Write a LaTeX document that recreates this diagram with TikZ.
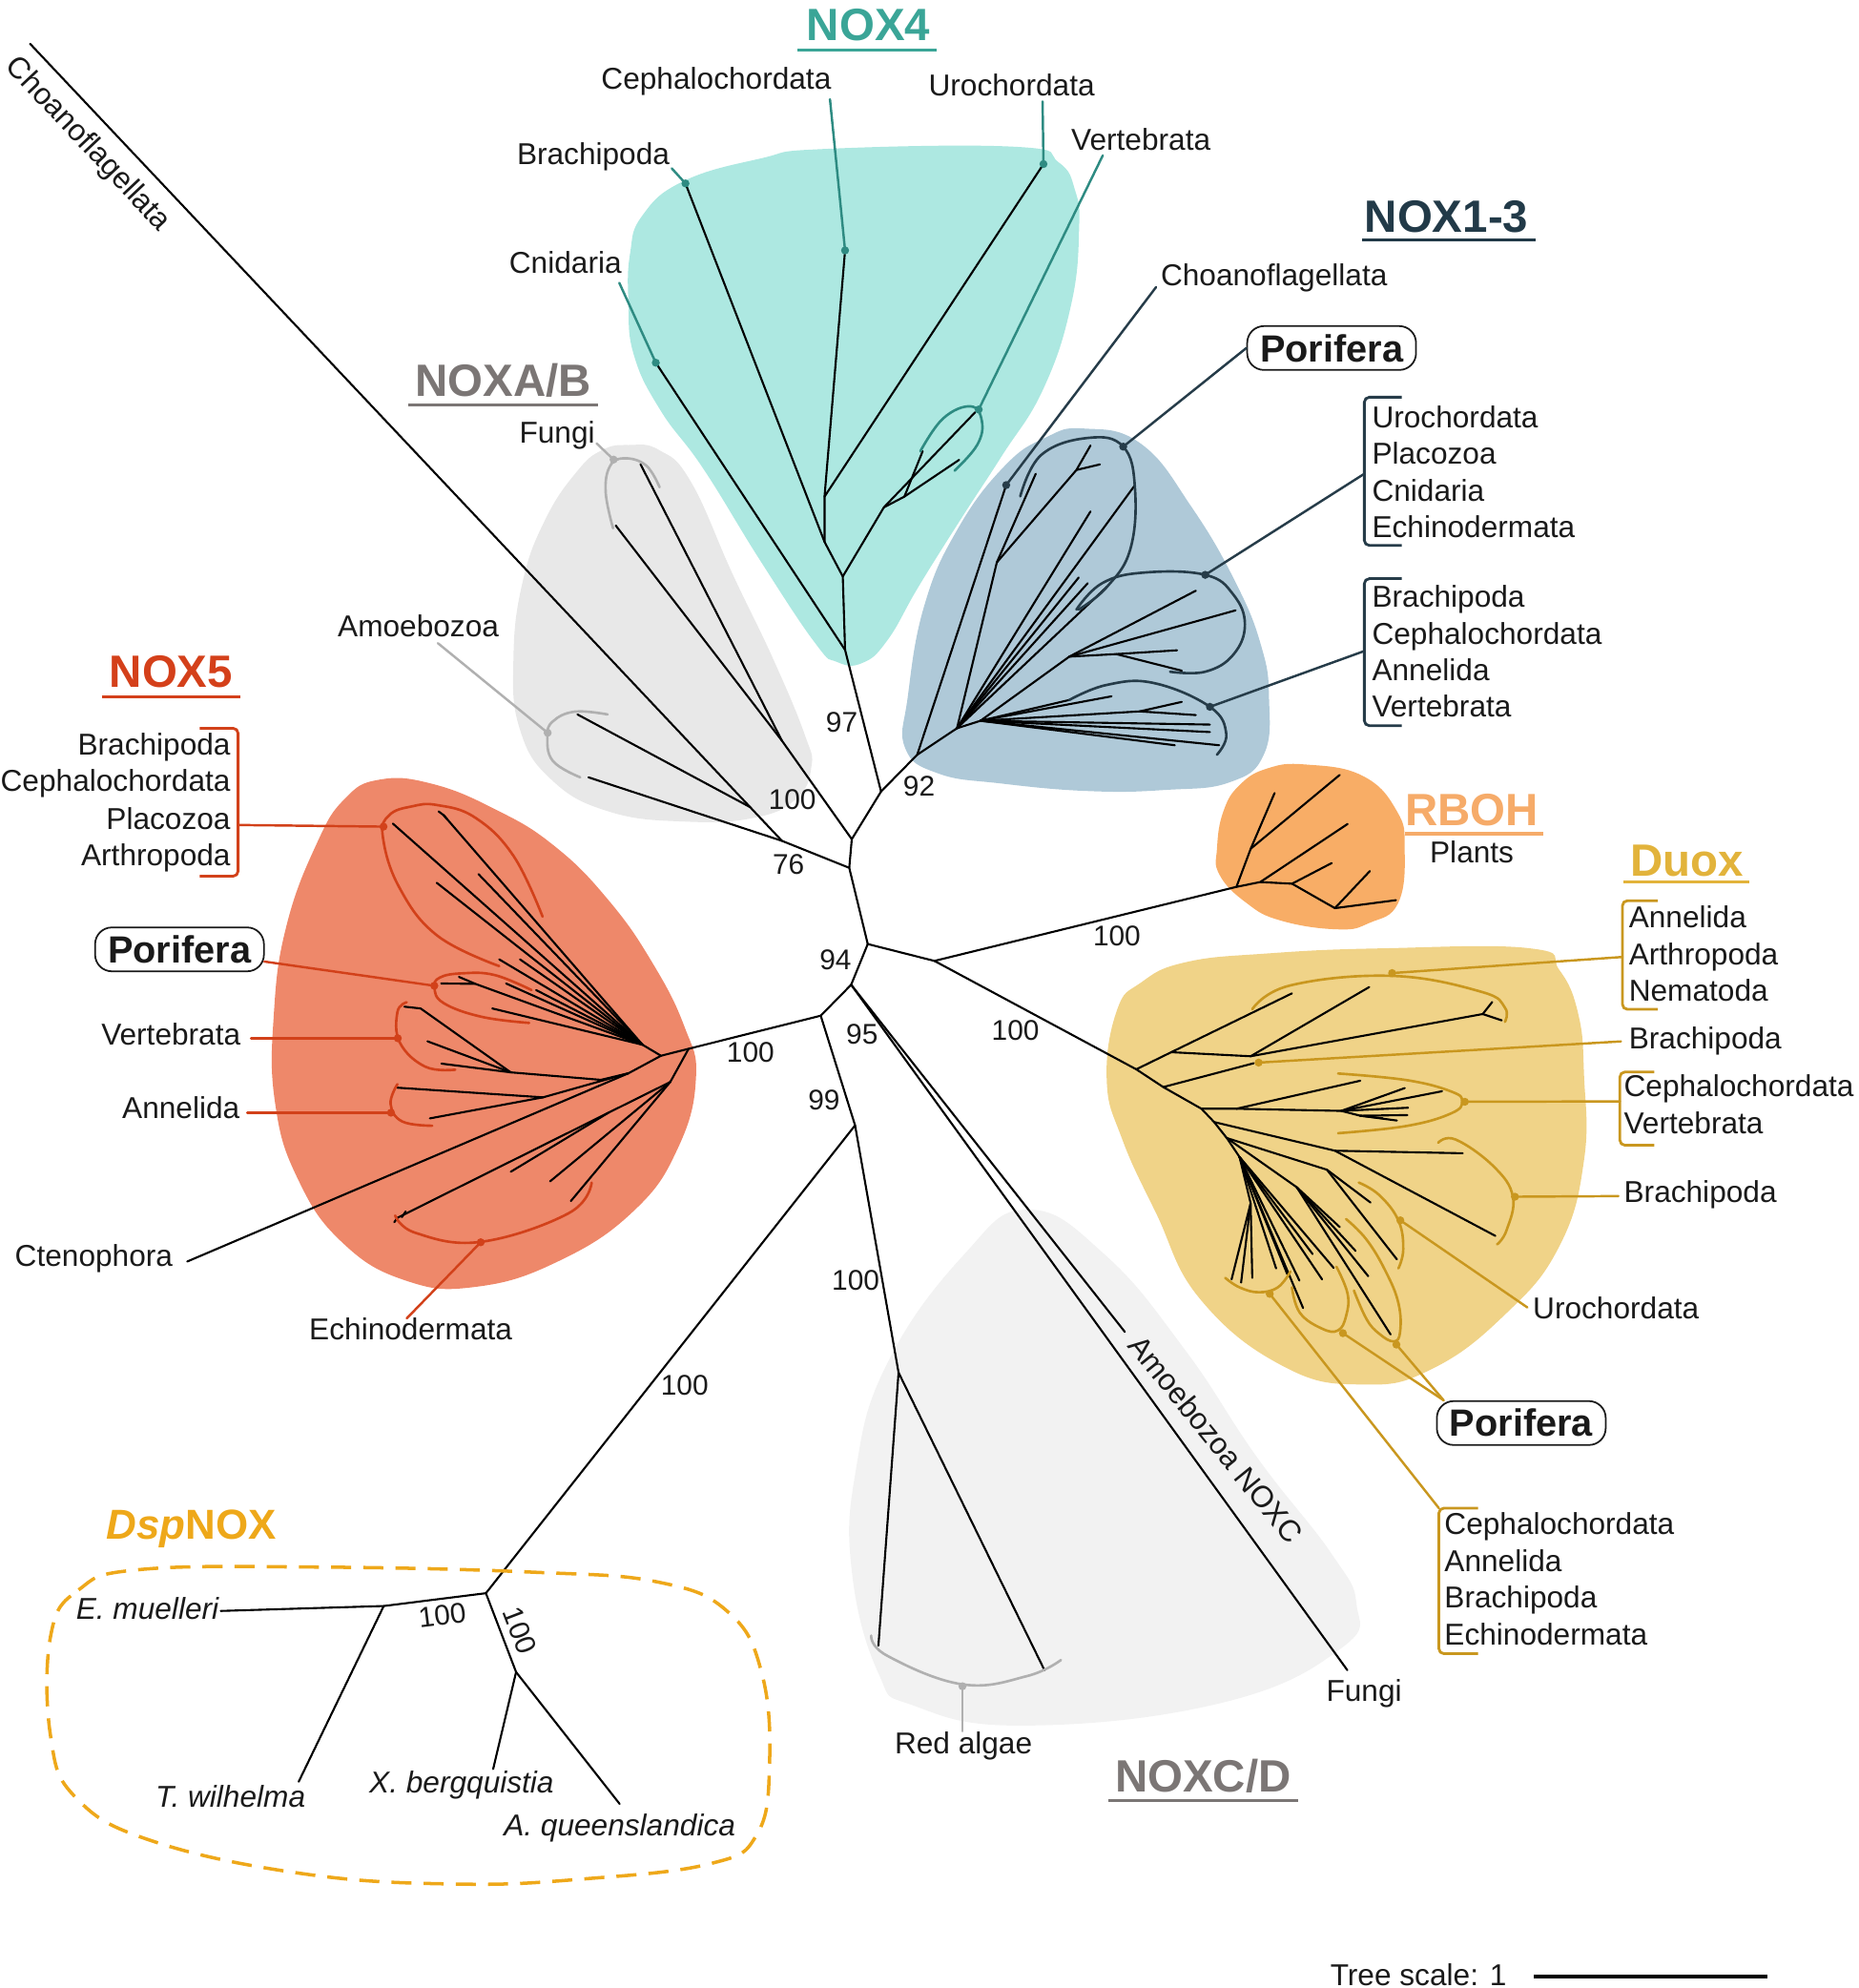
\documentclass[tikz,border=0pt]{standalone}
\usepackage{fontspec}
\setmainfont{Liberation Sans}
\newfontfamily\nokern[Kerning=Off]{Liberation Sans}
\definecolor{nfourfill}{HTML}{ADE8E1}
\definecolor{nfourtxt}{HTML}{3AA597}
\definecolor{nfourln}{HTML}{2E8B82}
\definecolor{nonefill}{HTML}{AFC9D8}
\definecolor{nonetxt}{HTML}{223A48}
\definecolor{noneln}{HTML}{263C49}
\definecolor{abfill}{HTML}{E8E8E8}
\definecolor{graytxt}{HTML}{7B7675}
\definecolor{grayln}{HTML}{B0B0B0}
\definecolor{nfivefill}{HTML}{EE886A}
\definecolor{nfivetxt}{HTML}{D4401A}
\definecolor{nfiveln}{HTML}{D2411A}
\definecolor{rbohfill}{HTML}{F8AD66}
\definecolor{rbohtxt}{HTML}{F6AB69}
\definecolor{duoxfill}{HTML}{F0D388}
\definecolor{duoxtxt}{HTML}{E2B33B}
\definecolor{duoxln}{HTML}{C9971F}
\definecolor{cdfill}{HTML}{F2F2F2}
\definecolor{dspcol}{HTML}{EEA81A}
\definecolor{ink}{HTML}{1A1A1A}
\begin{document}
\begin{tikzpicture}[x=0.013295cm,y=-0.013295cm,
  br/.style={line width=0.6pt,line cap=round,line join=round,draw=black},
  co/.style={line width=0.7pt,line cap=round},
  arcl/.style={line width=0.75pt,line cap=round},
  lab/.style={font=\fontsize{9}{10}\selectfont,inner sep=0pt,text=ink},
  bsv/.style={font=\fontsize{8.5}{10}\selectfont,inner sep=0pt,text=ink},
  hdr/.style={font=\bfseries\fontsize{13.5}{15}\selectfont,inner sep=0pt},
  pbox/.style={draw=ink,line width=0.5pt,rounded corners=5pt,font=\bfseries\fontsize{11.3}{12}\selectfont,minimum width=1.77cm,minimum height=0.46cm,inner sep=0pt,fill=white,text=ink},
  ul/.style={line width=0.9pt},
  brk/.style={line width=0.8pt,rounded corners=1.5pt},
  blob/.style={smooth cycle,tension=0.75}
]
\useasboundingbox (0,0) rectangle (1466,1568);

% ---------------- background blobs ----------------
\fill[nfourfill] plot[blob] coordinates {(538.9,143) (600,125) (650.4,117.5) (801.5,115.8) (835,128) (848,150) (851.2,180.5) (845,240) (823.1,306.5) (790,360) (758.4,408.7) (725,462) (700,505) (680,523) (660,522) (643.2,507.5) (600.1,442.8) (555,370) (520.9,323.5) (500,280) (495.7,238.4) (497,200) (506.5,170.3)};
\fill[nonefill] plot[blob] coordinates {(855,338) (900,350) (940,400) (975,460) (995,510) (1001,550) (997,595) (970,617) (920,623) (860,624) (790,618) (740,610) (714,590) (716,550) (729,478) (755,418) (792,368) (825,345)};
\fill[abfill] plot[blob] coordinates {(496,351) (520,355) (545,380) (578,453) (610,520) (635,580) (640,605) (628,630) (595,645) (540,648) (480,640) (435,615) (410,575) (405,520) (412,460) (430,410) (455,372) (475,355)};
\fill[nfivefill] plot[blob] coordinates {(299,615) (340,618) (390,638) (437,667) (480,710) (515,760) (540,810) (549,850) (535,905) (500,955) (440,995) (375,1015) (320,1010) (270,980) (235,930) (217,870) (216,800) (226,730) (250,665) (272,630)};
\fill[rbohfill] plot[blob] coordinates {(1030,603) (1075,612) (1102,640) (1108,669) (1103,712) (1080,728) (1055,733) (1010,726) (983,712) (962,690) (960,669) (965,640) (978,619) (1000,606)};
\fill[duoxfill] plot[blob] coordinates {(881,797) (900,775) (935,759) (1000,752) (1090,748) (1207,748) (1230,765) (1245,800) (1249.5,848) (1249.5,915) (1230,983) (1187,1037) (1129,1080) (1075,1092) (1013,1078) (947,1025) (912,957) (885,898) (873,852)};
\fill[cdfill] plot[blob] coordinates {(811,954) (872,990) (935,1065) (992,1150) (1050,1225) (1070,1265) (1058,1300) (964,1343) (808,1361) (720,1345) (693,1320) (672,1240) (675,1160) (700,1075) (760,990)};

% ---------------- backbone ----------------
\coordinate (A) at (684.5,744.6);
\coordinate (B) at (669.9,684.5);
\coordinate (C) at (671.9,661.9);
\coordinate (D) at (695,624.3);
\coordinate (J76) at (616.8,663.2);
\coordinate (JAm) at (591.7,636.6);
\coordinate (ChT) at (23.7,34.5);
\coordinate (AmU) at (455.5,563.5);
\coordinate (AmL) at (464.2,613.1);
\coordinate (NAB) at (616.8,584.2);
\coordinate (Fu1) at (505.2,366.1);
\coordinate (Fu2) at (485.7,414.5);
\coordinate (E) at (737.1,757.9);
\coordinate (F) at (671.4,776.7);
\coordinate (G) at (647.4,801.1);
\coordinate (H) at (674.5,887.6);

\draw[br] (ChT) -- (JAm) -- (J76) -- (B) -- (A);
\draw[br] (AmU) -- (JAm);
\draw[br] (AmL) -- (J76);
\draw[br] (Fu1) -- (NAB) -- (C);
\draw[br] (Fu2) -- (NAB);
\draw[br] (B) -- (C) -- (D);
\draw[br] (A) -- (E);
\draw[br] (A) -- (F) -- (G) -- (H);

% ---------------- NOXA/B arcs & labels ----------------
\draw[arcl,grayln] plot[smooth,tension=0.7] coordinates {(520.3,384.3) (509.5,367) (492.2,361.5) (481,368) (477.8,388.6) (483.6,416.7)};
\draw[arcl,grayln] plot[smooth,tension=0.7] coordinates {(479.3,563.5) (453.4,561.3) (436.1,569) (431.8,580.7) (436.1,600.2) (457.7,613.1)};
\coordinate (FuDot) at (484,362.5);
\coordinate (AmDot) at (432,578);
\node[lab] (lFungiA) at (439.5,343) {Fungi};
\node[lab] (lAmoeb) at (330,494) {Amoebozoa};
\draw[co,grayln] (470.6,349.7) -- (FuDot);
\draw[co,grayln] (345.4,507.3) -- (AmDot);
\fill[grayln] (FuDot) circle[radius=1.2pt];
\fill[grayln] (AmDot) circle[radius=1.2pt];
\node[hdr,text=graytxt] (hAB) at (397,300) {NOXA/B};
\draw[ul,graytxt] (321.7,319.5) -- (471.5,319.5);
\node[lab,font=\nokern\fontsize{9}{10}\selectfont,rotate=-46.8] (lChoA) at (69,114) {Choanoflagellata};

% ---------------- NOX4 ----------------
\coordinate (N4R) at (666.6,512.6);
\coordinate (N3) at (664.8,454.7);
\coordinate (N2) at (650.4,427.4);
\coordinate (N1) at (650.4,391.7);
\coordinate (Br4) at (540.7,144.7);
\coordinate (Ce4) at (666.6,197.5);
\coordinate (Ur4) at (823.1,129.4);
\coordinate (Cn4) at (517.3,286.1);
\coordinate (Vn) at (697.2,400.2);
\coordinate (Vn2) at (713.4,391.7);
\draw[br] (D) -- (N4R) -- (N3) -- (N2) -- (N1) -- (Ce4);
\draw[br] (N4R) -- (Cn4);
\draw[br] (N2) -- (Br4);
\draw[br] (N1) -- (Ur4);
\draw[br] (N3) -- (Vn) -- (769.2,325.2);
\draw[br] (Vn) -- (Vn2) -- (727.8,355.9);
\draw[br] (Vn2) -- (756.6,362.7);
\draw[arcl,nfourln] plot[smooth,tension=0.7] coordinates {(726,355.9) (744,330) (765.6,320.5) (774.5,332) (770.9,350.8) (753,371.2)};
\coordinate (V4Dot) at (772,323);
\node[lab] (lCe4) at (565,64) {Cephalochordata};
\node[lab] (lBr4) at (468,124) {Brachipoda};
\node[lab] (lUr4) at (798,67) {Urochordata};
\node[lab] (lVe4) at (900,110) {Vertebrata};
\node[lab] (lCn4) at (446,207) {Cnidaria};
\draw[co,nfourln] (654.7,78.3) -- (Ce4);
\draw[co,nfourln] (529.9,132.8) -- (Br4);
\draw[co,nfourln] (822.4,80) -- (Ur4);
\draw[co,nfourln] (869.9,122.6) -- (V4Dot);
\draw[co,nfourln] (488.5,223.1) -- (Cn4);
\foreach \p in {Ce4,Br4,Ur4,V4Dot,Cn4} \fill[nfourln] (\p) circle[radius=1.2pt];
\node[hdr,text=nfourtxt] (hN4) at (685,20) {NOX4};
\draw[ul,nfourtxt] (628.9,39.2) -- (738.6,39.2);

% ---------------- NOX1-3 ----------------
\coordinate (R13) at (723.5,595.3);
\coordinate (Ch13) at (793.7,382.6);
\coordinate (M1) at (754.9,574.4);
\coordinate (M2) at (773.4,568.5);
\coordinate (K1) at (786.3,443.6);
\coordinate (K2) at (849.1,370.7);
\coordinate (U1) at (843.5,517.9);
\coordinate (U2) at (880.5,515.9);
\coordinate (L2) at (899,561.1);
\draw[br] (D) -- (R13) -- (Ch13);
\draw[br] (R13) -- (M1) -- (M2);
\draw[br] (M1) -- (K1) -- (817,373.7);
\draw[br] (K1) -- (K2) -- (860.2,351.4);
\draw[br] (K2) -- (867.6,366.3);
\foreach \p in {(895.3,382.6),(860.2,403.4),(850.9,455.5),(858,460),(873.1,462.9)} \draw[br] (M1) -- \p;
\draw[br] (M2) -- (U1) -- (943.3,465.9);
\draw[br] (U1) -- (974.7,481.4);
\draw[br] (U1) -- (U2) -- (928.5,512.9);
\draw[br] (U2) -- (932.2,529);
\draw[br] (M2) -- (L2) -- (932.2,553.6);
\draw[br] (L2) -- (943.3,564);
\foreach \p in {(843.5,552.1),(876.8,549.2),(954.4,571.5),(954.4,577.4),(961.7,587.8),(926.7,587.8)} \draw[br] (M2) -- \p;
\draw[arcl,noneln] plot[smooth,tension=0.7] coordinates {(804.8,391.5) (821.4,358.8) (858.3,345.4) (886,352.3) (895.3,385.6) (891.6,433.2) (873.1,463) (850.9,480.8)};
\draw[arcl,noneln] plot[smooth,tension=0.7] coordinates {(849.1,480.8) (869.4,460) (902.6,451.6) (950.7,453.4) (972.8,468.9) (982,492.6) (972.8,516.4) (950.7,529.8) (923,529.8)};
\draw[arcl,noneln] plot[smooth,tension=0.7] coordinates {(843.5,552.1) (873.1,540.2) (910,538.7) (954.4,557.5) (967.3,578.9) (959.9,595.3)};
\coordinate (P13Dot) at (886,352.3);
\coordinate (U13Dot) at (950.7,453.4);
\coordinate (B13Dot) at (954.4,557.5);
\node[lab] (lCh13) at (1005,219) {Choanoflagellata};
\draw[co,noneln] (911.9,226.5) -- (Ch13);
\node[pbox] (pb13) at (1050.4,274.5) {Porifera};
\draw[co,noneln] (pb13.west) -- (P13Dot);
\draw[brk,noneln] (1105.8,313.3) -- (1076.2,313.3) -- (1076.2,430.2) -- (1105.8,430.2);
\draw[brk,noneln] (1105.8,456.4) -- (1076.2,456.4) -- (1076.2,572.4) -- (1105.8,572.4);
\draw[co,noneln] (1076.2,373.7) -- (U13Dot);
\draw[co,noneln] (1076.2,513.5) -- (B13Dot);
\foreach \p in {Ch13,P13Dot,U13Dot,B13Dot} \fill[noneln] (\p) circle[radius=1.2pt];
\node[lab,anchor=mid west] (l13a) at (1081.8,330.6) {Urochordata};
\node[lab,anchor=mid west] (l13b) at (1081.8,359.4) {Placozoa};
\node[lab,anchor=mid west] (l13c) at (1081.8,388.6) {Cnidaria};
\node[lab,anchor=mid west] (l13d) at (1081.8,416.8) {Echinodermata};
\node[lab,anchor=mid west] (l13e) at (1081.8,471.8) {Brachipoda};
\node[lab,anchor=mid west] (l13f) at (1081.8,501) {Cephalochordata};
\node[lab,anchor=mid west] (l13g) at (1081.8,529.8) {Annelida};
\node[lab,anchor=mid west] (l13h) at (1081.8,558.1) {Vertebrata};
\node[hdr,text=nonetxt] (hN13) at (1141,171) {NOX1-3};
\draw[ul,nonetxt] (1074.4,189.3) -- (1211,189.3);

% ---------------- NOX5 ----------------
\coordinate (R5) at (521.4,832.7);
\coordinate (H5) at (506.8,824);
\coordinate (Q5) at (375,776);
\coordinate (Vt1) at (402.9,845.8);
\coordinate (Vt0) at (474,851.7);
\coordinate (Vt00) at (495.8,846.5);
\coordinate (Vs) at (331.8,795.4);
\coordinate (An1) at (428.4,865.5);
\coordinate (Lo0) at (543.2,827.2);
\coordinate (Lo1) at (528.7,853.4);
\coordinate (Lb) at (480,877.6);
\coordinate (LoT) at (313.5,960.5);
\coordinate (CtT) at (147.7,995);
\draw[br] (G) -- (Lo0) -- (R5) -- (H5);
\foreach \p in {(309.9,649.6),(350,643),(377.4,689.4),(344.5,696.3),(393.8,756.7),(410.2,756.7),(388.3,795.4),(399.2,775.7),(422.9,780.9)} \draw[br] (H5) -- \p;
\draw[br] (350,643) -- (346,640);
\draw[br] (350,643) -- (353,646.5);
\draw[br] (H5) -- (Q5) -- (348,775.7);
\draw[br] (Q5) -- (362,770.5);
\draw[br] (319,794) -- (Vs) -- (Vt1);
\draw[br] (337.2,821.3) -- (Vt1);
\draw[br] (348.2,838.9) -- (Vt1);
\draw[br] (Vt1) -- (Vt0) -- (Vt00) -- (R5);
\draw[br] (313.5,857.9) -- (An1);
\draw[br] (339.1,882.1) -- (An1);
\draw[br] (An1) -- (Vt00);
\draw[br] (CtT) -- (Vt00);
\draw[br] (Lo0) -- (Lo1) -- (450.3,947.3);
\draw[br] (Lo1) -- (433.9,931.8);
\draw[br] (Lo1) -- (Lb) -- (LoT);
\draw[br] (Lb) -- (402.9,924.2);
\draw[br] (LoT) -- (311,964);
\draw[br] (317,960) -- (320,955.5);
% arcs
\draw[arcl,nfiveln] plot[smooth,tension=0.7] coordinates {(428,723) (405,675) (375,645) (345,635) (325,636) (307,643) (302,660) (315,700) (345,738) (393.8,762)};
\draw[arcl,nfiveln] plot[smooth,tension=0.7] coordinates {(419.3,780.9) (390,769) (364.6,767.7) (347,771) (342.7,779.1) (350,791.2) (380,802) (417.4,806.8)};
\draw[arcl,nfiveln] plot[smooth,tension=0.7] coordinates {(320.8,790.5) (313.5,798.2) (315.4,822.3) (335.4,841.3) (359.1,843.7)};
\draw[arcl,nfiveln] plot[smooth,tension=0.7] coordinates {(313.5,855.1) (308.1,870.7) (317.2,884.5) (340.9,887.9)};
\draw[arcl,nfiveln] plot[smooth,tension=0.7] coordinates {(311.7,958.7) (328.1,972.5) (379.2,979.5) (448.4,957) (466.7,932.8)};
\coordinate (T5Dot) at (302.5,652);
\coordinate (P5Dot) at (342.6,777.5);
\coordinate (V5Dot) at (313.8,818.9);
\coordinate (A5Dot) at (308.4,877.6);
\coordinate (E5Dot) at (379.2,979.8);
\draw[brk,nfiveln] (157.5,574.4) -- (187.8,574.4) -- (187.8,691.1) -- (157.5,691.1);
\draw[co,nfiveln] (187.8,650.7) -- (T5Dot);
\node[pbox] (pb5) at (141.6,748.8) {Porifera};
\draw[co,nfiveln] (208.5,758.4) -- (P5Dot);
\node[lab,anchor=mid east] (l5v) at (190.3,817) {Vertebrata};
\draw[co,nfiveln] (198,818.9) -- (V5Dot);
\node[lab,anchor=mid east] (l5a) at (189.6,875.5) {Annelida};
\draw[co,nfiveln] (195,877.6) -- (A5Dot);
\node[lab] (l5e) at (324,1048) {Echinodermata};
\draw[co,nfiveln] (320.8,1039.9) -- (E5Dot);
\foreach \p in {T5Dot,P5Dot,V5Dot,A5Dot,E5Dot} \fill[nfiveln] (\p) circle[radius=1.2pt];
\node[lab,anchor=mid east] (l5b1) at (182.3,588.2) {Brachipoda};
\node[lab,anchor=mid east] (l5b2) at (182.3,617.5) {Cephalochordata};
\node[lab,anchor=mid east] (l5b3) at (182.3,646.9) {Placozoa};
\node[lab,anchor=mid east] (l5b4) at (182.3,675.5) {Arthropoda};
\node[lab] (l5c) at (74,993) {Ctenophora};
\node[hdr,text=nfivetxt] (hN5) at (135,530) {NOX5};
\draw[ul,nfivetxt] (80.2,549.5) -- (189.6,549.5);

% ---------------- RBOH ----------------
\coordinate (RR) at (975.3,699.5);
\coordinate (Rb1) at (986.6,669.4);
\coordinate (Rb2) at (994.1,695.7);
\coordinate (Rb3) at (1019.2,697);
\coordinate (Rb4) at (1053,716.3);
\draw[br] (E) -- (RR) -- (Rb1) -- (1005.4,625.5);
\draw[br] (Rb1) -- (1056.8,611.2);
\draw[br] (RR) -- (Rb2) -- (1063,649.9);
\draw[br] (Rb2) -- (Rb3) -- (1050.5,680.7);
\draw[br] (Rb3) -- (Rb4) -- (1080.6,687);
\draw[br] (Rb4) -- (1101.1,710);
\node[hdr,text=rbohtxt] (hRB) at (1161,639) {RBOH};
\draw[ul,rbohtxt] (1108.2,657.6) -- (1217.2,657.6);
\node[lab] (lPl) at (1161,672) {Plants};

% ---------------- Duox ----------------
\coordinate (Db0) at (896.3,843.4);
\coordinate (Db1) at (917.6,857.4);
\coordinate (Db2) at (947.7,874.5);
\coordinate (Db3) at (957.7,885);
\coordinate (Db4) at (967.7,897.6);
\coordinate (Db5) at (977.8,912.6);
\coordinate (n1) at (923.9,829.9);
\coordinate (n1b) at (986.5,833.1);
\coordinate (n1c) at (1169.6,799.8);
\coordinate (n3a) at (975.3,874.5);
\coordinate (n3) at (1058,876.2);
\coordinate (n3s) at (1073,880);
\coordinate (n4) at (1053,907.6);
\coordinate (n5) at (1046.7,922.6);
\coordinate (n6) at (1022.9,936.4);
\coordinate (n7) at (986.5,949);
\draw[br] (E) -- (Db0) -- (Db1) -- (Db2) -- (Db3) -- (Db4) -- (Db5);
\draw[br] (Db0) -- (n1) -- (1019.1,783.5);
\draw[br] (n1) -- (n1b) -- (1080.1,778.5);
\draw[br] (n1b) -- (n1c) -- (1177.1,790.3);
\draw[br] (n1c) -- (1184.6,804.8);
\draw[br] (Db1) -- (989,838.6);
\draw[br] (Db2) -- (n3a) -- (1073,852.4);
\draw[br] (n3a) -- (n3) -- (n3s);
\foreach \p in {(1108.1,858.2),(1137.5,860.7),(1110.7,873.7)} \draw[br] (n3) -- \p;
\foreach \p in {(1110.2,879.5),(1101.9,883.8),(1090.6,882)} \draw[br] (n3s) -- \p;
\draw[br] (Db3) -- (n4) -- (1153.8,909.6);
\draw[br] (n4) -- (1179.6,974.8);
\draw[br] (Db4) -- (n5) -- (1081.1,948.5);
\draw[br] (n5) -- (1101.9,993.3);
\draw[br] (Db4) -- (n6);
\foreach \p in {(1056.8,967.8),(1069.3,986.6),(1079.3,1006.6),(1096.9,1052.5)} \draw[br] (n6) -- \p;
\draw[br] (Db5) -- (n7);
\foreach \p in {(971.5,1009.1),(979,1011.6),(987.8,1007.9)} \draw[br] (n7) -- \p;
\foreach \p in {(1006.6,1000.4),(1015.4,1004.9),(1027.9,1031.7),(1035.4,989.1),(1042.9,1009.1),(1052,1000),(1025,1010)} \draw[br] (Db5) -- \p;
% arcs
\draw[arcl,duoxln] plot[smooth,tension=0.7] coordinates {(987.8,796) (1017.9,777.2) (1098.1,769.7) (1168.3,782.2) (1187.1,794.8) (1187.1,806)};
\draw[arcl,duoxln] plot[smooth,tension=0.7] coordinates {(1055.5,846.7) (1110,852) (1145,861) (1153.3,868.7) (1145,878) (1110,888) (1055.5,893.8)};
\draw[arcl,duoxln] plot[smooth,tension=0.7] coordinates {(1134.5,901.3) (1148.3,898.8) (1178.3,920.1) (1193.4,943.9) (1188.4,970.3) (1180.9,981.5)};
\draw[arcl,duoxln] plot[smooth,tension=0.7] coordinates {(1071.8,932.7) (1088.1,942.7) (1103.1,962.7) (1106.9,985.3) (1103.1,1000.4)};
\draw[arcl,duoxln] plot[smooth,tension=0.7] coordinates {(1019.1,1015.4) (1025.4,1035.5) (1043,1048) (1055.5,1049.3) (1061.8,1038) (1063,1020.4) (1054.2,999.1)};
\draw[arcl,duoxln] plot[smooth,tension=0.7] coordinates {(1061.8,961.5) (1078,977.8) (1093.1,1002.9) (1103.1,1027.9) (1104.4,1050.5) (1099.4,1058) (1088,1052) (1078,1040.5) (1068,1017.9)};
\draw[arcl,duoxln] plot[smooth,tension=0.7] coordinates {(966.5,1007.9) (977.8,1015.4) (992.8,1019.2) (1007.9,1015.4) (1017.9,1002.9)};
\coordinate (D1Dot) at (1098.1,767.5);
\coordinate (D2Dot) at (992.8,838.1);
\coordinate (D3Dot) at (1155.5,869);
\coordinate (D4Dot) at (1195,943.9);
\coordinate (DUDot) at (1104.6,962.5);
\coordinate (DP1Dot) at (1059.3,1051.5);
\coordinate (DP2Dot) at (1101.5,1060.5);
\coordinate (DBDot) at (1001.6,1020.5);
\draw[brk,duoxln] (1307.7,710.4) -- (1279.8,710.4) -- (1279.8,796.1) -- (1307.7,796.1);
\draw[brk,duoxln] (1305,845.5) -- (1277.8,845.5) -- (1277.8,903.3) -- (1305,903.3);
\draw[brk,duoxln] (1166,1189.5) -- (1135,1189.5) -- (1135,1304.3) -- (1166,1304.3);
\draw[co,duoxln] (D1Dot) -- (1279.8,754.8);
\draw[co,duoxln] (D2Dot) -- (1278.6,821.4);
\draw[co,duoxln] (D3Dot) -- (1277.8,868.7);
\draw[co,duoxln] (D4Dot) -- (1276.7,943.4);
\draw[co,duoxln] (DUDot) -- (1204.8,1031.2);
\node[pbox] (pbD) at (1200,1122.4) {Porifera};
\draw[co,duoxln] (pbD.north west) ++(6,0) coordinate (pbDc) -- (DP1Dot);
\draw[co,duoxln] (pbDc) -- (DP2Dot);
\draw[co,duoxln] (DBDot) -- (1135,1189.5);
\foreach \p in {D1Dot,D2Dot,D3Dot,D4Dot,DUDot,DP1Dot,DP2Dot,DBDot} \fill[duoxln] (\p) circle[radius=1.2pt];
\node[lab,anchor=mid west] (lDa) at (1284.4,724.4) {Annelida};
\node[lab,anchor=mid west] (lDb) at (1284.4,753.9) {Arthropoda};
\node[lab,anchor=mid west] (lDc) at (1284.4,783) {Nematoda};
\node[lab,anchor=mid west] (lDd) at (1284.4,820.2) {Brachipoda};
\node[lab,anchor=mid west] (lDe) at (1280.5,858.2) {Cephalochordata};
\node[lab,anchor=mid west] (lDf) at (1280.5,886.9) {Vertebrata};
\node[lab,anchor=mid west] (lDg) at (1280.5,941.3) {Brachipoda};
\node[lab,anchor=mid west] (lDh) at (1208.7,1033.3) {Urochordata};
\node[lab,anchor=mid west] (lDi) at (1138.9,1203.4) {Cephalochordata};
\node[lab,anchor=mid west] (lDj) at (1138.9,1232.5) {Annelida};
\node[lab,anchor=mid west] (lDk) at (1138.9,1261.3) {Brachipoda};
\node[lab,anchor=mid west] (lDl) at (1138.9,1290.8) {Echinodermata};
\node[hdr,text=duoxtxt] (hDu) at (1331,679) {Duox};
\draw[ul,duoxtxt] (1280.5,695.7) -- (1379.5,695.7);

% ---------------- NOXC/D ----------------
\coordinate (Ra) at (708.8,1082.6);
\coordinate (AmN) at (887.3,1050.5);
\coordinate (FuN) at (1062.8,1317.3);
\draw[br] (F) -- (AmN);
\draw[br] (F) -- (FuN);
\draw[br] (H) -- (Ra) -- (692.9,1298);
\draw[br] (Ra) -- (823.9,1317.3);
\draw[arcl,grayln] plot[smooth,tension=0.7] coordinates {(687.2,1290) (700,1306) (759.2,1328.5) (810,1322) (836.9,1309.3)};
\coordinate (RaDot) at (759.2,1330);
\draw[co,grayln] (RaDot) -- (759.2,1365.5);
\fill[grayln] (RaDot) circle[radius=1.2pt];
\node[lab] (lRa) at (760,1377) {Red algae};
\node[lab] (lFuN) at (1076,1336) {Fungi};
\node[lab,font=\nokern\fontsize{9}{10}\selectfont,rotate=-51] (lAmN) at (959,1135) {Amoebozoa NOXC};
\node[hdr,text=graytxt] (hCD) at (949,1401) {NOXC/D};
\draw[ul,graytxt] (874.2,1420) -- (1024,1420);

% ---------------- DspNOX ----------------
\coordinate (DR) at (383.3,1256.6);
\coordinate (Pn) at (302.7,1266.7);
\coordinate (Em) at (174.1,1270.6);
\coordinate (Tw) at (235.6,1405.3);
\coordinate (Qn) at (407.1,1318.8);
\coordinate (Xb) at (389,1395.3);
\coordinate (Aq) at (488.8,1422.8);
\draw[br] (H) -- (DR) -- (Pn) -- (Em);
\draw[br] (Pn) -- (Tw);
\draw[br] (DR) -- (Qn) -- (Xb);
\draw[br] (Qn) -- (Aq);
\draw[dspcol,line width=1pt,dash pattern=on 6pt off 3.6pt] plot[smooth cycle,tension=0.7] coordinates {(40,1290) (62,1254) (110,1238) (250,1236) (420,1240) (520,1248) (575,1272) (601,1320) (607,1392) (597,1447) (560,1470) (460,1482) (360,1486) (240,1478) (120,1452) (60,1418) (40,1370)};
\node[lab,font=\itshape\fontsize{9}{10}\selectfont,anchor=mid east] (lEm) at (173,1270) {E. muelleri};
\node[lab,font=\itshape\fontsize{9}{10}\selectfont] (lTw) at (181.8,1416.6) {T. wilhelma};
\node[lab,font=\itshape\fontsize{9}{10}\selectfont] (lXb) at (364.1,1407.8) {X. bergquistia};
\node[lab,font=\itshape\fontsize{9}{10}\selectfont] (lAq) at (488.8,1441.6) {A. queenslandica};
\node[bsv,rotate=7] (s1) at (348.8,1273.7) {100};
\node[bsv,rotate=-69] (s2) at (410,1286) {100};
\node[font=\bfseries\fontsize{12.5}{14}\selectfont,inner sep=0pt,text=dspcol] (hDsp) at (151,1206) {\itshape Dsp\upshape NOX};

% ---------------- support values ----------------
\node[bsv] (v94) at (659,757) {94};
\node[bsv] (v95) at (680,816) {95};
\node[bsv] (v99) at (650,868) {99};
\node[bsv] (v100a) at (592,830) {100};
\node[bsv] (v100b) at (881,738) {100};
\node[bsv] (v100c) at (801,813) {100};
\node[bsv] (v97) at (664,570) {97};
\node[bsv] (v100d) at (625,631) {100};
\node[bsv] (v76) at (622,682) {76};
\node[bsv] (v92) at (725,620) {92};
\node[bsv] (v100e) at (675,1010) {100};
\node[bsv] (v100f) at (540,1093) {100};

% ---------------- tree scale ----------------
\node[lab,anchor=mid west] (lTS) at (1048.9,1559) {Tree scale: 1};
\draw[line width=1pt] (1209.9,1559) coordinate (tsA) -- (1394.1,1559) coordinate (tsB);
\end{tikzpicture}
\end{document}
